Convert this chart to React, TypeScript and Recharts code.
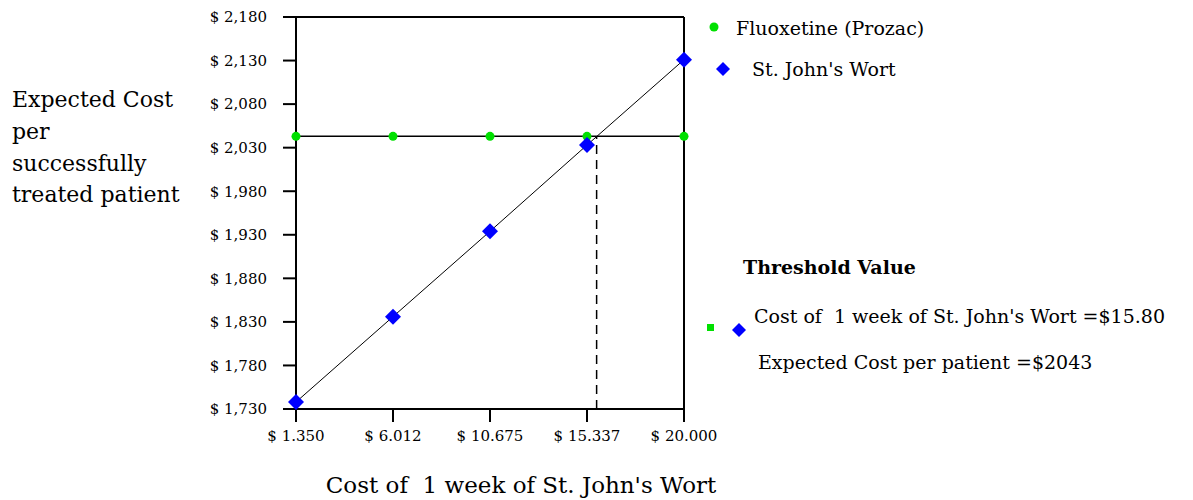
import React from 'react';
import { ComposedChart, Line, ReferenceLine, XAxis, YAxis } from 'recharts';

const weekCosts = [1.35, 6.012, 10.675, 15.337, 20];
const fluoxetineCost = [2043, 2043, 2043, 2043, 2043];
const stJohnsCost = [1738, 1836, 1934, 2033, 2131];
const yTicks = [1730, 1780, 1830, 1880, 1930, 1980, 2030, 2080, 2130, 2180];
const thresholdWeek = 15.8;
const thresholdCost = 2043;

const chartData = weekCosts.map((x, i) => ({
    x,
    fluoxetine: fluoxetineCost[i],
    stJohns: stJohnsCost[i],
}));

const FONT = '"DejaVu Serif", serif';

const Diamond = (props: any) => {
    const { cx, cy, size = 8 } = props;
    if (cx == null || cy == null) return null;
    return (
        <polygon
            points={`${cx},${cy - size} ${cx + size},${cy} ${cx},${cy + size} ${cx - size},${cy}`}
            fill="#0000ff"
        />
    );
};

const GreenDot = (props: any) => {
    const { cx, cy } = props;
    if (cx == null || cy == null) return null;
    return <circle cx={cx} cy={cy} r={4.5} fill="#00e000" />;
};

const fmtY = (v: number) => `$ ${v.toLocaleString('en-US')}`;
const fmtX = (v: number) => `$ ${v.toFixed(3)}`;

export default function App() {
    return (
        <div style={{ position: 'absolute', left: 0, top: 0, width: 1193, height: 500, background: '#fff' }}>
            <ComposedChart
                width={1193}
                height={500}
                data={chartData}
                margin={{ top: 17, right: 509, left: 0, bottom: 0 }}
            >
                <XAxis
                    dataKey="x"
                    type="number"
                    domain={[1.35, 20]}
                    ticks={weekCosts}
                    tickFormatter={fmtX}
                    height={91}
                    tickSize={13}
                    tickMargin={8}
                    stroke="#000"
                    strokeWidth={2}
                    tick={{ fill: '#000', fontSize: 15, fontFamily: FONT }}
                />
                <YAxis
                    type="number"
                    domain={[1730, 2180]}
                    ticks={yTicks}
                    tickFormatter={fmtY}
                    width={296}
                    tickSize={13}
                    tickMargin={16}
                    stroke="#000"
                    strokeWidth={2}
                    tick={{ fill: '#000', fontSize: 15, fontFamily: FONT }}
                />
                <ReferenceLine y={2180} stroke="#000" strokeWidth={2} />
                <ReferenceLine x={20} stroke="#000" strokeWidth={2} />
                <ReferenceLine
                    segment={[
                        { x: thresholdWeek, y: 1730 },
                        { x: thresholdWeek, y: thresholdCost },
                    ]}
                    stroke="#000"
                    strokeWidth={1.5}
                    strokeDasharray="9 6"
                />
                <Line
                    dataKey="fluoxetine"
                    stroke="#000"
                    strokeWidth={1.5}
                    dot={<GreenDot />}
                    isAnimationActive={false}
                />
                <Line
                    dataKey="stJohns"
                    stroke="#000"
                    strokeWidth={1}
                    dot={<Diamond />}
                    isAnimationActive={false}
                />
            </ComposedChart>
            <svg
                width={1193}
                height={500}
                style={{ position: 'absolute', left: 0, top: 0, pointerEvents: 'none' }}
                fontFamily={FONT}
            >
                <g fontSize={22} fill="#000">
                    <text x={12} y={107}>Expected Cost</text>
                    <text x={12} y={139}>per</text>
                    <text x={12} y={171}>successfully</text>
                    <text x={12} y={202}>treated patient</text>
                </g>
                <text x={521} y={493} fontSize={23} textAnchor="middle" fill="#000" style={{ whiteSpace: 'pre' }}>
                    Cost of  1 week of St. John's Wort
                </text>
                <circle cx={714} cy={27} r={4.5} fill="#00e000" />
                <text x={736} y={35} fontSize={19} fill="#000">Fluoxetine (Prozac)</text>
                <Diamond cx={723} cy={69} size={7} />
                <text x={752} y={76} fontSize={19} fill="#000">St. John's Wort</text>
                <text x={743} y={274} fontSize={19} fontWeight="bold" fill="#000">Threshold Value</text>
                <text x={754} y={323} fontSize={19} fill="#000" style={{ whiteSpace: 'pre' }}>
                    Cost of  1 week of St. John's Wort =$15.80
                </text>
                <rect x={707} y={324} width={7} height={7} fill="#00e000" />
                <Diamond cx={739} cy={330} size={7} />
                <text x={758} y={369} fontSize={19} fill="#000">Expected Cost per patient =$2043</text>
            </svg>
        </div>
    );
}
